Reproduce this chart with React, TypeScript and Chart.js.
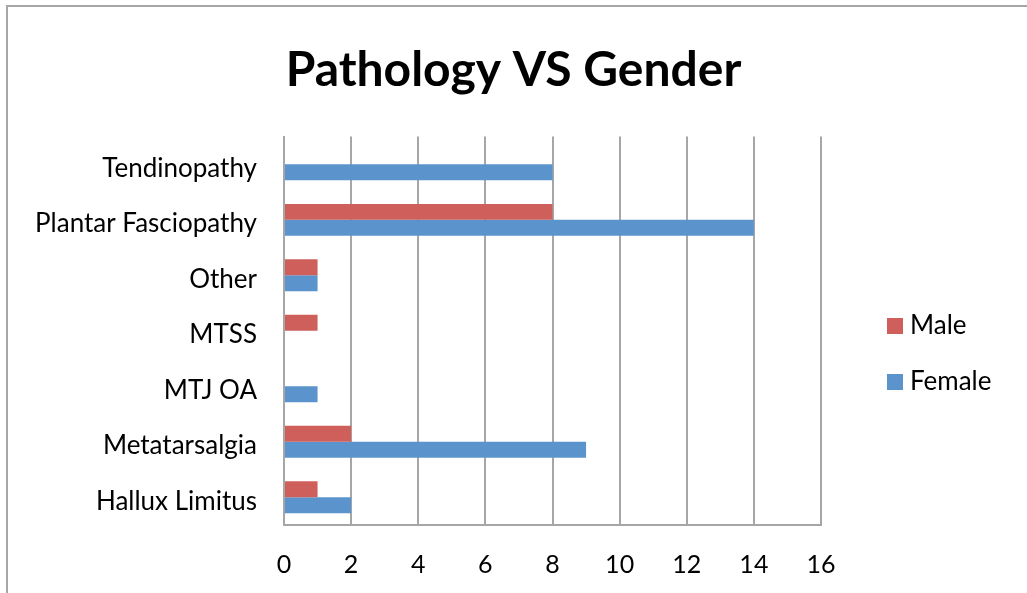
import React, { useEffect, useRef } from "react";
import { Chart, registerables } from "chart.js";

Chart.register(...registerables);

const categories = [
  "Tendinopathy",
  "Plantar Fasciopathy",
  "Other",
  "MTSS",
  "MTJ OA",
  "Metatarsalgia",
  "Hallux Limitus",
];
const maleValues = [0, 8, 1, 1, 0, 2, 1];
const femaleValues = [8, 14, 1, 0, 1, 9, 2];
const seriesNames = ["Male", "Female"];
const seriesColors = ["#cf5f5a", "#5b94cc"];
const titleText = "Pathology VS Gender";

const FONT = "Lato, 'Open Sans', sans-serif";

const frameAndLegend = {
  id: "frameAndLegend",
  beforeDraw(chart: any) {
    const ctx = chart.ctx;
    ctx.save();
    ctx.fillStyle = "#ffffff";
    ctx.fillRect(0, 0, chart.width, chart.height);
    ctx.strokeStyle = "#a6a6a6";
    ctx.lineWidth = 2;
    ctx.beginPath();
    ctx.moveTo(7, chart.height + 5);
    ctx.lineTo(7, 6);
    ctx.lineTo(chart.width + 5, 6);
    ctx.stroke();
    ctx.restore();
  },
  afterDraw(chart: any) {
    const ctx = chart.ctx;
    const area = chart.chartArea;
    ctx.save();
    const boxX = area.right + 66;
    const startY = 326;
    const step = 56;
    ctx.font = `26px ${FONT}`;
    ctx.textBaseline = "middle";
    ctx.textAlign = "left";
    chart.data.datasets.forEach((ds: any, i: number) => {
      const cy = startY + i * step;
      ctx.fillStyle = ds.backgroundColor;
      ctx.fillRect(boxX, cy - 8, 16, 16);
      ctx.fillStyle = "#000000";
      ctx.fillText(ds.label, boxX + 23, cy);
    });
    ctx.restore();
  },
};

export default function App() {
  const canvasRef = useRef<HTMLCanvasElement | null>(null);

  useEffect(() => {
    document.body.style.margin = "0";
    const canvas = canvasRef.current;
    if (!canvas) return;
    const chart = new Chart(canvas, {
      type: "bar",
      data: {
        labels: categories,
        datasets: [
          {
            label: seriesNames[0],
            data: maleValues,
            backgroundColor: seriesColors[0],
            categoryPercentage: 0.575,
            barPercentage: 1,
          },
          {
            label: seriesNames[1],
            data: femaleValues,
            backgroundColor: seriesColors[1],
            categoryPercentage: 0.575,
            barPercentage: 1,
          },
        ],
      },
      options: {
        indexAxis: "y",
        responsive: false,
        animation: false,
        layout: { padding: { left: 0, top: 0, right: 0, bottom: 16 } },
        plugins: {
          legend: { display: false },
          tooltip: { enabled: false },
          title: {
            display: true,
            text: titleText,
            color: "#000000",
            font: { family: FONT, size: 48, weight: "bold" },
            padding: { top: 42, bottom: 37 },
          },
        },
        scales: {
          x: {
            min: 0,
            max: 16,
            ticks: {
              stepSize: 2,
              color: "#000000",
              font: { family: FONT, size: 25 },
              padding: 25,
            },
            grid: {
              color: "#a6a6a6",
              lineWidth: 2,
              drawTicks: false,
            },
            border: { display: true, color: "#a6a6a6", width: 2 },
            afterFit(scale: any) {
              scale.height = 52;
            },
          },
          y: {
            ticks: {
              color: "#000000",
              font: { family: FONT, size: 26 },
              padding: 27,
              labelOffset: 4,
            },
            grid: { display: false, drawTicks: false },
            border: { display: true, color: "#a6a6a6", width: 2 },
            afterFit(scale: any) {
              scale.width = 284;
            },
          },
          legendSpace: {
            type: "linear",
            axis: "y",
            position: "right",
            display: true,
            ticks: { display: false },
            grid: { display: false, drawTicks: false },
            border: { display: false },
            afterFit(scale: any) {
              scale.width = 206;
            },
          },
        },
      },
      plugins: [frameAndLegend],
    });
    return () => chart.destroy();
  }, []);

  return (
    <div style={{ position: "absolute", left: 0, top: 0, width: 1027, height: 593 }}>
      <canvas ref={canvasRef} width={1027} height={593} style={{ width: 1027, height: 593 }} />
    </div>
  );
}
